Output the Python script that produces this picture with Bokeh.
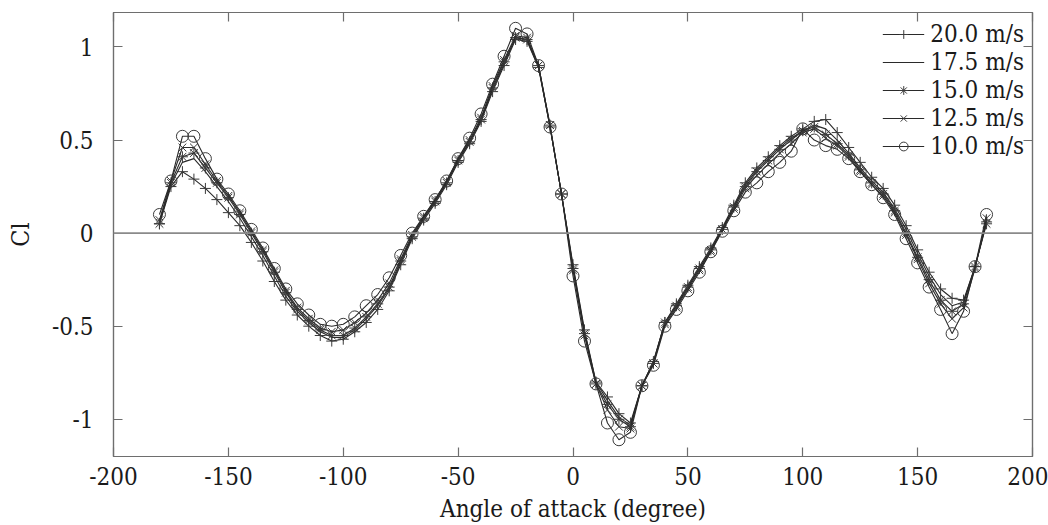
from bokeh.plotting import figure
from bokeh.models import Span, LinearAxis, FixedTicker, Range1d, Legend, LegendItem
from bokeh.embed import file_html
from bokeh.resources import INLINE

angles = list(range(-180, 181, 5))

cl_20_0 = [0.05, 0.25, 0.33, 0.29, 0.24, 0.18, 0.11, 0.04, -0.05,
           -0.15, -0.26, -0.36, -0.44, -0.50, -0.55, -0.58, -0.57, -0.53,
           -0.48, -0.41, -0.31, -0.17, -0.03, 0.07, 0.16, 0.26, 0.38,
           0.48, 0.60, 0.76, 0.90, 1.04, 1.03, 0.89, 0.57, 0.21,
           -0.17, -0.52, -0.80, -0.88, -0.97, -1.02, -0.82, -0.69, -0.48,
           -0.38, -0.28, -0.18, -0.08, 0.03, 0.15, 0.27, 0.35, 0.41,
           0.47, 0.52, 0.56, 0.60, 0.61, 0.54, 0.46, 0.38, 0.30,
           0.24, 0.15, 0.04, -0.09, -0.21, -0.30, -0.35, -0.36, -0.18,
           0.06]
cl_17_5 = [0.06, 0.26, 0.38, 0.40, 0.33, 0.25, 0.17, 0.08, -0.02,
           -0.12, -0.23, -0.34, -0.42, -0.48, -0.53, -0.56, -0.56, -0.52,
           -0.46, -0.39, -0.30, -0.16, -0.02, 0.08, 0.17, 0.27, 0.39,
           0.49, 0.61, 0.77, 0.91, 1.05, 1.04, 0.89, 0.57, 0.21,
           -0.18, -0.53, -0.80, -0.90, -0.99, -1.03, -0.82, -0.69, -0.48,
           -0.39, -0.29, -0.19, -0.09, 0.02, 0.14, 0.26, 0.34, 0.40,
           0.46, 0.51, 0.55, 0.58, 0.56, 0.50, 0.43, 0.35, 0.28,
           0.22, 0.13, 0.02, -0.11, -0.23, -0.33, -0.39, -0.37, -0.18,
           0.06]
cl_15_0 = [0.05, 0.27, 0.41, 0.43, 0.35, 0.27, 0.19, 0.10, 0.00,
           -0.10, -0.21, -0.32, -0.41, -0.47, -0.52, -0.55, -0.55, -0.51,
           -0.45, -0.38, -0.29, -0.15, -0.02, 0.08, 0.17, 0.27, 0.39,
           0.49, 0.61, 0.78, 0.92, 1.05, 1.04, 0.90, 0.58, 0.21,
           -0.19, -0.54, -0.81, -0.92, -1.00, -1.04, -0.82, -0.70, -0.48,
           -0.39, -0.29, -0.19, -0.09, 0.02, 0.14, 0.25, 0.33, 0.39,
           0.45, 0.50, 0.55, 0.57, 0.53, 0.48, 0.42, 0.34, 0.27,
           0.21, 0.12, 0.00, -0.13, -0.25, -0.36, -0.42, -0.38, -0.18,
           0.05]
cl_12_5 = [0.07, 0.28, 0.46, 0.46, 0.37, 0.28, 0.20, 0.11, 0.01,
           -0.09, -0.20, -0.31, -0.40, -0.46, -0.51, -0.53, -0.52, -0.48,
           -0.43, -0.36, -0.27, -0.14, -0.01, 0.09, 0.18, 0.28, 0.40,
           0.50, 0.62, 0.79, 0.93, 1.06, 1.05, 0.90, 0.58, 0.21,
           -0.20, -0.55, -0.81, -0.95, -1.04, -1.05, -0.82, -0.70, -0.49,
           -0.40, -0.30, -0.20, -0.10, 0.02, 0.13, 0.24, 0.31, 0.37,
           0.43, 0.48, 0.54, 0.56, 0.51, 0.47, 0.41, 0.33, 0.26,
           0.20, 0.11, -0.01, -0.14, -0.27, -0.38, -0.46, -0.40, -0.19,
           0.08]
cl_10_0 = [0.10, 0.28, 0.52, 0.52, 0.40, 0.29, 0.21, 0.12, 0.02,
           -0.08, -0.19, -0.30, -0.38, -0.44, -0.49, -0.50, -0.49, -0.45,
           -0.39, -0.33, -0.24, -0.12, 0.00, 0.09, 0.18, 0.28, 0.40,
           0.51, 0.64, 0.80, 0.95, 1.10, 1.07, 0.90, 0.57, 0.21,
           -0.23, -0.58, -0.81, -1.02, -1.11, -1.07, -0.82, -0.71, -0.50,
           -0.41, -0.31, -0.21, -0.10, 0.01, 0.12, 0.22, 0.27, 0.33,
           0.38, 0.44, 0.56, 0.50, 0.47, 0.45, 0.40, 0.33, 0.26,
           0.19, 0.10, -0.03, -0.16, -0.29, -0.41, -0.54, -0.42, -0.18,
           0.10]

series_labels = ["20.0 m/s", "17.5 m/s", "15.0 m/s", "12.5 m/s", "10.0 m/s"]
series_values = [cl_20_0, cl_17_5, cl_15_0, cl_12_5, cl_10_0]
series_markers = ["cross", None, "asterisk", "x", "circle"]

x_ticks = [-200, -150, -100, -50, 0, 50, 100, 150, 200]
y_ticks = [-1, -0.5, 0, 0.5, 1]
y_tick_labels = ["-1", "-0.5", "0", "0.5", "1"]

FONT = "DejaVu Serif Condensed"
LINE = "#2a2a2a"
FRAME = "#6e6e6e"

p = figure(width=1048, height=525, output_backend="svg", toolbar_location=None,
           x_range=Range1d(-200, 200), y_range=Range1d(-1.2, 1.185),
           min_border_left=113, min_border_right=16, min_border_top=12,
           min_border_bottom=68, background_fill_color="white",
           border_fill_color="white", outline_line_color=FRAME,
           outline_line_width=1.2)
p.grid.visible = False

p.add_layout(Span(location=0, dimension="width", line_color="#8a8a8a",
                  line_width=1.6))

items = []
for lab, vals, mk in zip(series_labels, series_values, series_markers):
    renderers = [p.line(angles, vals, line_color=LINE, line_width=1.1)]
    if mk is not None:
        sz = 11 if mk != "circle" else 12
        renderers.append(p.scatter(angles, vals, marker=mk, size=sz,
                                   line_color="#3a3a3a", fill_color=None,
                                   line_width=1.0))
    items.append(LegendItem(label=lab, renderers=renderers))

legend = Legend(items=items, location="top_right", border_line_color=None,
                background_fill_alpha=0, label_text_font=FONT,
                label_text_font_size="24px", label_text_color="#1a1a1a",
                glyph_width=42, glyph_height=22, label_height=22,
                label_standoff=6, spacing=-6, padding=5, margin=8)
p.add_layout(legend)


def style_axis(ax):
    ax.axis_line_color = FRAME
    ax.axis_line_width = 1.2
    ax.major_tick_line_color = FRAME
    ax.major_tick_line_width = 1.2
    ax.major_tick_in = 9
    ax.major_tick_out = 0
    ax.minor_tick_line_color = None
    ax.major_label_text_font = FONT
    ax.major_label_text_color = "#1a1a1a"
    ax.axis_label_text_font = FONT
    ax.axis_label_text_font_style = "normal"
    ax.axis_label_text_color = "#1a1a1a"


xa = p.xaxis[0]
style_axis(xa)
xa.ticker = FixedTicker(ticks=x_ticks)
xa.major_label_overrides = {t: str(t) for t in x_ticks}
xa.major_label_text_font_size = "24px"
xa.major_label_standoff = 10
xa.axis_label = "Angle of attack (degree)"
xa.axis_label_text_font_size = "24px"
xa.axis_label_standoff = 7

ya = p.yaxis[0]
style_axis(ya)
ya.ticker = FixedTicker(ticks=y_ticks)
ya.major_label_overrides = dict(zip(y_ticks, y_tick_labels))
ya.major_label_text_font_size = "24px"
ya.major_label_standoff = 20
ya.axis_label = "Cl"
ya.axis_label_text_font_size = "25px"
ya.axis_label_standoff = 14

# tick marks only on the top and right edges of the frame
top = LinearAxis(ticker=FixedTicker(ticks=x_ticks))
style_axis(top)
top.major_label_text_font_size = "1px"
top.major_label_text_color = None
top.major_label_standoff = 0
p.add_layout(top, "above")

right = LinearAxis(ticker=FixedTicker(ticks=y_ticks))
style_axis(right)
right.major_label_text_font_size = "1px"
right.major_label_text_color = None
right.major_label_standoff = 0
p.add_layout(right, "right")

open("out.html", "w").write(file_html(p, INLINE))
